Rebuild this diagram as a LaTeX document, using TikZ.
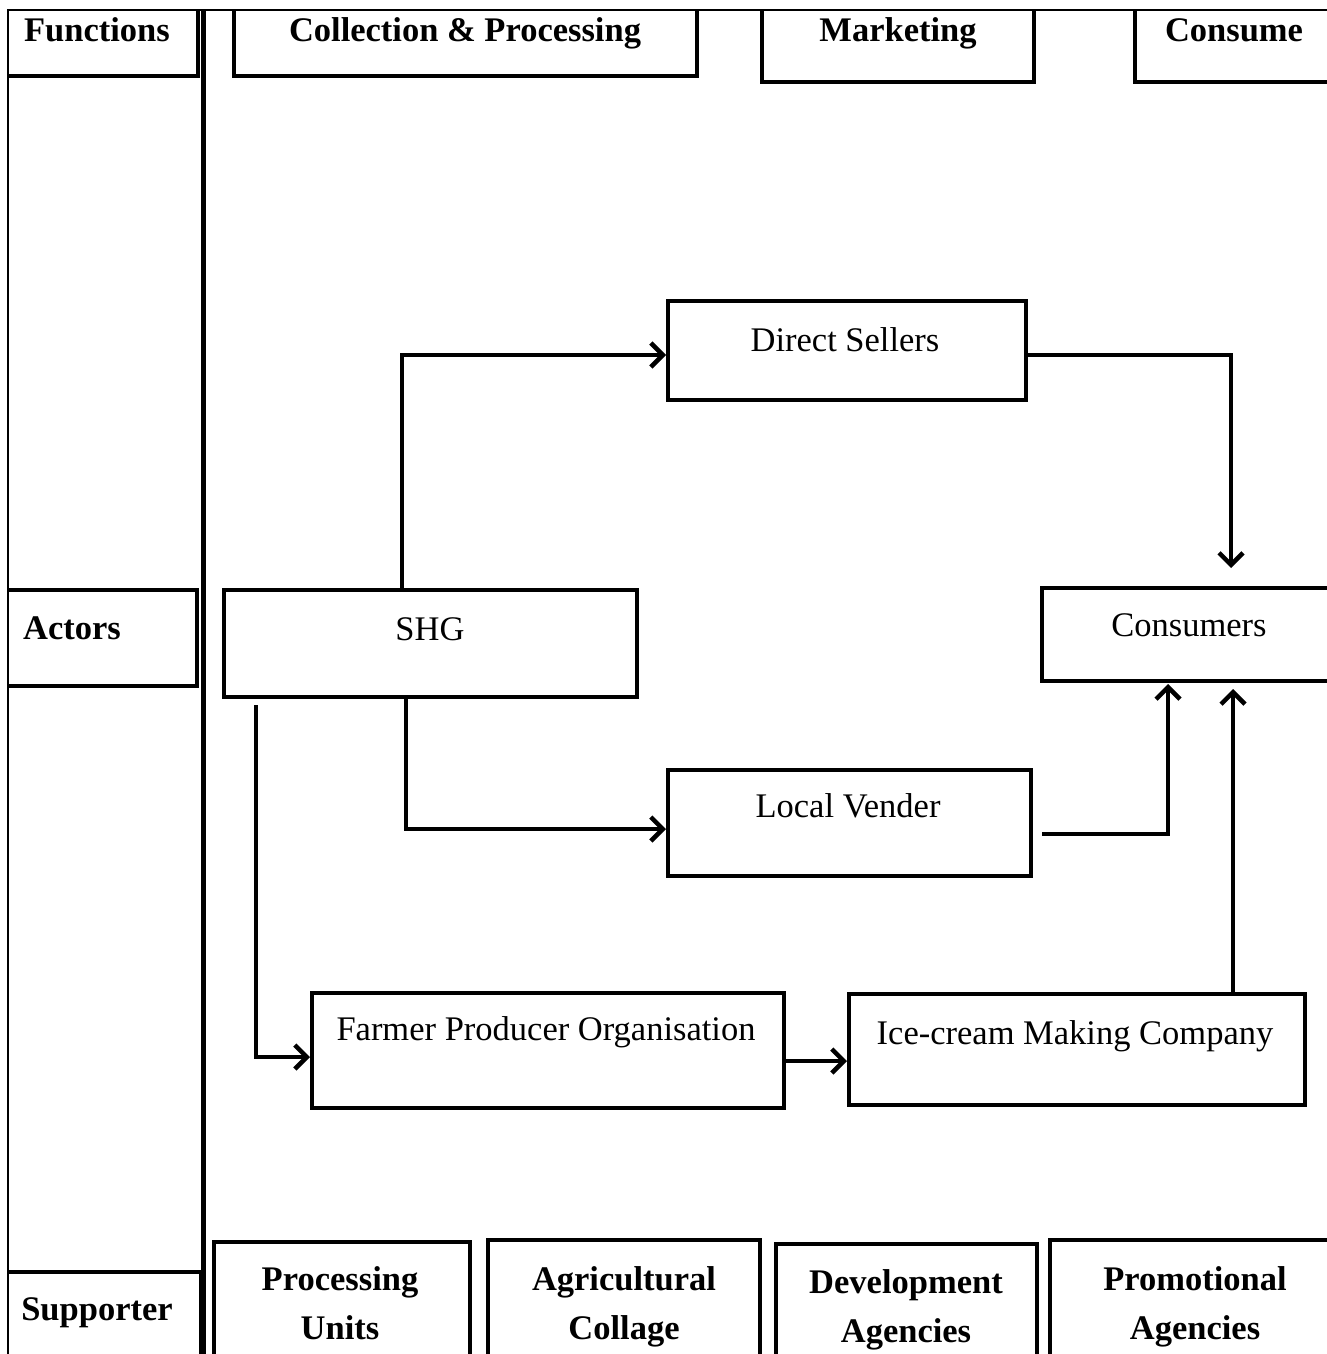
\documentclass[tikz,border=0pt]{standalone}
\usepackage{fontspec}
\setmainfont{Liberation Serif}
\usetikzlibrary{arrows.meta}
\tikzset{
  box/.style={draw, line width=4pt, rectangle, inner sep=0pt, minimum width=#1},
  box/.default=10pt,
  heading/.style={font=\fontsize{34.5}{49}\selectfont\bfseries, inner sep=0pt, align=center},
  txt/.style={font=\fontsize{34.5}{49}\selectfont, inner sep=0pt},
  arr/.style={line width=4pt, -{Straight Barb[length=12pt,width=24pt,line width=4.5pt]}},
  plain/.style={line width=4pt}
}
\begin{document}
\begin{tikzpicture}[x=1pt,y=-1pt]
\useasboundingbox (0,0) rectangle (1327,1354);
\fill[white] (0,0) rectangle (1327,1354);
\begin{scope}
\clip (8,10) rectangle (1327,1354);
% header boxes
\node[box=228pt, minimum height=106pt] (fun) at (84,23) {};
\node[box=463pt, minimum height=106pt] (col) at (465.5,23) {};
\node[box=272pt, minimum height=112pt] (mkt) at (898,26) {};
\node[box=215pt, minimum height=112pt] (csm) at (1242.5,26) {};
% left column boxes
\node[box=227pt, minimum height=96pt] (act) at (83.5,638) {};
\node[box=211pt, minimum height=110pt] (sup) at (95.5,1327) {};
% actors
\node[box=358pt, minimum height=99pt] (ds) at (847,350.5) {};
\node[box=413pt, minimum height=107pt] (shg) at (430.5,643.5) {};
\node[box=318pt, minimum height=93pt] (cons) at (1201,634.5) {};
\node[box=363pt, minimum height=106pt] (lv) at (849.5,823) {};
\node[box=472pt, minimum height=115pt] (fpo) at (548,1050.5) {};
\node[box=456pt, minimum height=111pt] (ice) at (1077,1049.5) {};
% supporters
\node[box=256pt, minimum height=140pt] (pu) at (342,1312) {};
\node[box=272pt, minimum height=140pt] (ac) at (624,1310) {};
\node[box=261pt, minimum height=140pt] (da) at (906.5,1314) {};
\node[box=290pt, minimum height=140pt] (pa) at (1195,1310) {};
\end{scope}
% frame lines
\draw[line width=1.5pt] (8,1354) -- (8,10) -- (1327,10);
\draw[line width=5pt] (203,10) -- (203,1354);
% texts
\node[heading, anchor=base] (fun-t) at (97,42) {Functions};
\node[heading, anchor=base] (col-t) at (465,42) {Collection \& Processing};
\node[heading, anchor=base] (mkt-t) at (898,42) {Marketing};
\node[heading, anchor=base] (csm-t) at (1234,42) {Consume};
\node[heading, anchor=base west] (act-t) at (23,639) {Actors};
\node[heading, anchor=base] (sup-t) at (97,1320) {Supporter};
\node[txt, anchor=base] (ds-t) at (845,351) {Direct Sellers};
\node[txt, anchor=base] (shg-t) at (430,640) {SHG};
\node[txt, anchor=base] (cons-t) at (1189,636) {Consumers};
\node[txt, anchor=base] (lv-t) at (848,817) {Local Vender};
\node[txt, anchor=base] (fpo-t) at (546,1040) {Farmer Producer Organisation};
\node[txt, anchor=base] (ice-t) at (1075,1044) {Ice-cream Making Company};
\node[heading, anchor=north] (pu-t) at (340,1266) {Processing\\Units};
\node[heading, anchor=north] (ac-t) at (624,1266) {Agricultural\\Collage};
\node[heading, anchor=north] (da-t) at (906,1269) {Development\\Agencies};
\node[heading, anchor=north] (pa-t) at (1195,1266) {Promotional\\Agencies};
% connectors
\draw[arr] ([xshift=-28.5pt]shg.north) |- ([yshift=-4.5pt]ds.west);
\draw[arr] ([yshift=-4pt]ds.east) -| ([xshift=30pt,yshift=18pt]cons.north);
\draw[arr] ([xshift=-24.5pt]shg.south) |- ([yshift=-6pt]lv.west);
\draw[arr] ([xshift=9pt,yshift=-11pt]lv.east) -| ([xshift=-33pt,yshift=-1pt]cons.south);
\draw[arr] ([xshift=156pt]ice.north) -- ([xshift=32pt,yshift=-6pt]cons.south);
\draw[arr] ([xshift=-174.5pt,yshift=-6pt]shg.south) |- ([yshift=-6.5pt]fpo.west);
\draw[arr] ([yshift=-10.5pt]fpo.east) -- ([yshift=-11.5pt]ice.west);
\end{tikzpicture}
\end{document}
